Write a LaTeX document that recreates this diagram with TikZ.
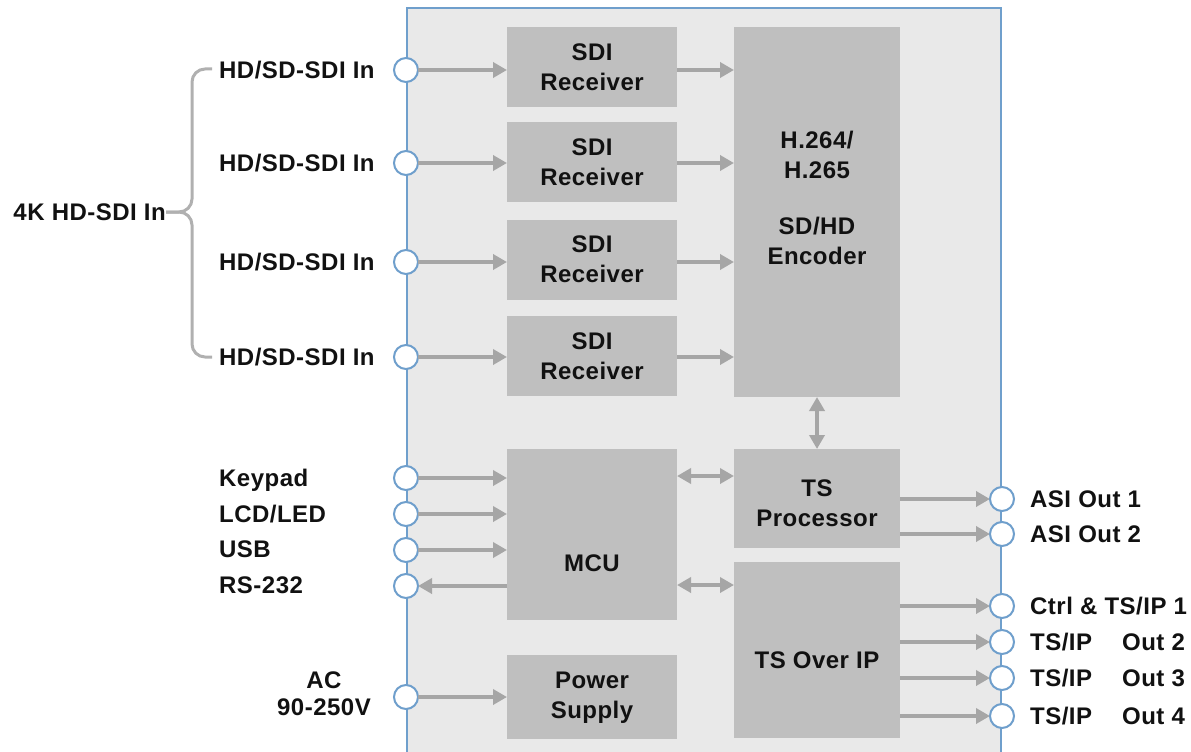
\documentclass[tikz,border=0pt]{standalone}
\usepackage{fontspec}
\setmainfont{Liberation Sans}[LetterSpace=2]
\usetikzlibrary{arrows.meta}
\definecolor{panelfill}{HTML}{E9E9E9}
\definecolor{boxfill}{HTML}{BFBFBF}
\definecolor{arrowgray}{HTML}{A6A6A6}
\definecolor{portblue}{HTML}{6F9FCC}
\definecolor{bracegray}{HTML}{B0B0B0}
\definecolor{txt}{HTML}{111111}
\begin{document}
\begin{tikzpicture}[x=1pt,y=-1pt,
  font=\fontsize{24}{30}\selectfont\bfseries,
  box/.style={fill=boxfill, draw=none, inner sep=0, outer sep=0, align=center, text=txt},
  port/.style={circle, draw=portblue, fill=white, line width=2pt, minimum size=24pt, inner sep=0, outer sep=0},
  arr/.style={draw=arrowgray, line width=4pt, -{Triangle[length=14pt,width=15pt]}},
  darr/.style={draw=arrowgray, line width=4pt, {Triangle[length=14pt,width=15pt]}-{Triangle[length=14pt,width=15pt]}},
  lbl/.style={inner sep=0, text height=17pt, text depth=0pt, text=txt},
  btxt/.style={align=center, inner sep=0, text=txt},
  bracel/.style={draw=bracegray, line width=3pt, rounded corners=13pt}
]
\useasboundingbox (0,0) rectangle (1191,752);

% panel
\path[fill=panelfill] (407,8) rectangle (1001,780);
\draw[portblue, line width=2pt] (407,780) -- (407,8) -- (1001,8) -- (1001,780);

% blocks
\node[box, minimum width=170pt, minimum height=80pt] (r1) at (592,67) {SDI\\Receiver};
\node[box, minimum width=170pt, minimum height=80pt] (r2) at (592,162) {SDI\\Receiver};
\node[box, minimum width=170pt, minimum height=80pt] (r3) at (592,259.5) {SDI\\Receiver};
\node[box, minimum width=170pt, minimum height=80pt] (r4) at (592,356) {SDI\\Receiver};
\node[box, minimum width=166pt, minimum height=370pt] (enc) at (817,212) {};
\node[btxt] (enct) at (817,198) {H.264/\\H.265\\[26pt]SD/HD\\Encoder};
\node[box, minimum width=170pt, minimum height=171pt] (mcu) at (592,534.5) {};
\node[btxt] (mcut) at (592,563) {MCU};
\node[box, minimum width=166pt, minimum height=99pt] (tsp) at (817,498.5) {};
\node[btxt] (tspt) at (817,503) {TS\\Processor};
\node[box, minimum width=166pt, minimum height=176pt] (tsip) at (817,650) {};
\node[btxt] (tsipt) at (817,660) {TS Over IP};
\node[box, minimum width=170pt, minimum height=84pt] (ps) at (592,697) {};
\node[btxt] (pst) at (592,698) {Power\\Supply};

% ports
\node[port] (in1) at (406,70) {};
\node[port] (in2) at (406,163) {};
\node[port] (in3) at (406,262) {};
\node[port] (in4) at (406,357) {};
\node[port] (kp) at (406,478) {};
\node[port] (lcd) at (406,514) {};
\node[port] (usb) at (406,550) {};
\node[port] (rs) at (406,586) {};
\node[port] (ac) at (406,697) {};
\node[port] (a1) at (1002,499) {};
\node[port] (a2) at (1002,534) {};
\node[port] (o1) at (1002,606) {};
\node[port] (o2) at (1002,642) {};
\node[port] (o3) at (1002,678) {};
\node[port] (o4) at (1002,716) {};

% connectors
\foreach \p/\r in {in1/r1,in2/r2,in3/r3,in4/r4}{
  \draw[arr] (\p.east) -- (\p -| \r.west);
  \draw[arr] (\r.east |- \p) -- (\p -| enc.west);
}
\foreach \p in {kp,lcd,usb}{
  \draw[arr] (\p.east) -- (\p -| mcu.west);
}
\draw[arr] (mcu.west |- rs) -- (rs.east);
\coordinate (ya) at (0,476);
\coordinate (yb) at (0,585);
\draw[darr] (mcu.east |- ya) -- (tsp.west |- ya);
\draw[darr] (mcu.east |- yb) -- (tsip.west |- yb);
\draw[darr] (enc.south) -- (tsp.north);
\foreach \p in {a1,a2}{
  \draw[arr] (tsp.east |- \p) -- (\p.west);
}
\foreach \p in {o1,o2,o3,o4}{
  \draw[arr] (tsip.east |- \p) -- (\p.west);
}
\draw[arr] (ac.east) -- (ac -| ps.west);

% left labels
\node[lbl, anchor=west] (l1) at (219,70) {HD/SD-SDI In};
\node[lbl, anchor=west] (l2) at (219,163) {HD/SD-SDI In};
\node[lbl, anchor=west] (l3) at (219,262) {HD/SD-SDI In};
\node[lbl, anchor=west] (l4) at (219,357) {HD/SD-SDI In};
\node[lbl, anchor=east] (l4k) at (166,212) {4K HD-SDI In};
\node[lbl, anchor=west] (lkp) at (219,478) {Keypad};
\node[lbl, anchor=west] (llcd) at (219,514) {LCD/LED};
\node[lbl, anchor=west] (lusb) at (219,549) {USB};
\node[lbl, anchor=west] (lrs) at (219,585) {RS-232};
\node[btxt, font=\fontsize{24}{27}\selectfont\bfseries] (lac) at (324,694) {AC\\90-250V};

% right labels
\node[lbl, anchor=west] (la1) at (1030,499) {ASI Out 1};
\node[lbl, anchor=west] (la2) at (1030,534) {ASI Out 2};
\node[lbl, anchor=west] (lo1) at (1030,606) {Ctrl \& TS/IP 1};
\node[lbl, anchor=west] (lo2) at (1030,642) {TS/IP\hspace{30pt}Out 2};
\node[lbl, anchor=west] (lo3) at (1030,678) {TS/IP\hspace{30pt}Out 3};
\node[lbl, anchor=west] (lo4) at (1030,716) {TS/IP\hspace{30pt}Out 4};

% brace
\coordinate (bt) at (212,69);
\coordinate (bb) at (212,357);
\draw[bracel] (bt) -- (192,69) -- (192,212) -- (l4k.east);
\draw[bracel] (bb) -- (192,357) -- (192,212) -- (l4k.east);
\end{tikzpicture}
\end{document}
